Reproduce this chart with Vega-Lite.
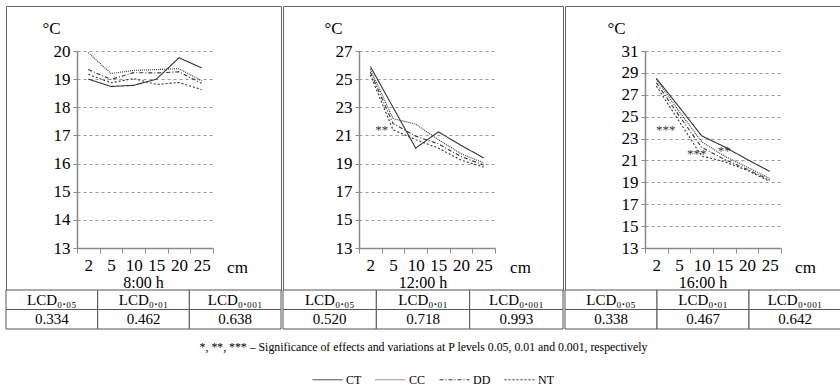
{
  "$schema": "https://vega.github.io/schema/vega-lite/v6.json",
  "padding": {"left": 5, "top": 5, "right": 0, "bottom": 0},
  "background": "white",
  "datasets": {
    "p8": [
      {"depth": "2", "variant": "CT", "temp": 19.0}, {"depth": "5", "variant": "CT", "temp": 18.74}, {"depth": "10", "variant": "CT", "temp": 18.78}, {"depth": "15", "variant": "CT", "temp": 19.0}, {"depth": "20", "variant": "CT", "temp": 19.76}, {"depth": "25", "variant": "CT", "temp": 19.4},
      {"depth": "2", "variant": "CC", "temp": 19.94}, {"depth": "5", "variant": "CC", "temp": 19.2}, {"depth": "10", "variant": "CC", "temp": 19.31}, {"depth": "15", "variant": "CC", "temp": 19.34}, {"depth": "20", "variant": "CC", "temp": 19.37}, {"depth": "25", "variant": "CC", "temp": 18.94},
      {"depth": "2", "variant": "DD", "temp": 19.34}, {"depth": "5", "variant": "DD", "temp": 18.99}, {"depth": "10", "variant": "DD", "temp": 19.23}, {"depth": "15", "variant": "DD", "temp": 19.22}, {"depth": "20", "variant": "DD", "temp": 19.26}, {"depth": "25", "variant": "DD", "temp": 18.85},
      {"depth": "2", "variant": "NT", "temp": 19.17}, {"depth": "5", "variant": "NT", "temp": 18.87}, {"depth": "10", "variant": "NT", "temp": 19.02}, {"depth": "15", "variant": "NT", "temp": 18.81}, {"depth": "20", "variant": "NT", "temp": 18.88}, {"depth": "25", "variant": "NT", "temp": 18.63}
    ],
    "p12": [
      {"depth": "2", "variant": "CT", "temp": 25.9}, {"depth": "5", "variant": "CT", "temp": 23.0}, {"depth": "10", "variant": "CT", "temp": 20.1}, {"depth": "15", "variant": "CT", "temp": 21.25}, {"depth": "20", "variant": "CT", "temp": 20.3}, {"depth": "25", "variant": "CT", "temp": 19.4},
      {"depth": "2", "variant": "CC", "temp": 25.7}, {"depth": "5", "variant": "CC", "temp": 22.2}, {"depth": "10", "variant": "CC", "temp": 21.8}, {"depth": "15", "variant": "CC", "temp": 20.7}, {"depth": "20", "variant": "CC", "temp": 19.7}, {"depth": "25", "variant": "CC", "temp": 19.05},
      {"depth": "2", "variant": "DD", "temp": 25.5}, {"depth": "5", "variant": "DD", "temp": 21.85}, {"depth": "10", "variant": "DD", "temp": 20.95}, {"depth": "15", "variant": "DD", "temp": 20.4}, {"depth": "20", "variant": "DD", "temp": 19.5}, {"depth": "25", "variant": "DD", "temp": 18.9},
      {"depth": "2", "variant": "NT", "temp": 25.3}, {"depth": "5", "variant": "NT", "temp": 21.4}, {"depth": "10", "variant": "NT", "temp": 20.7}, {"depth": "15", "variant": "NT", "temp": 20.1}, {"depth": "20", "variant": "NT", "temp": 19.25}, {"depth": "25", "variant": "NT", "temp": 18.75}
    ],
    "p16": [
      {"depth": "2", "variant": "CT", "temp": 28.5}, {"depth": "5", "variant": "CT", "temp": 25.9}, {"depth": "10", "variant": "CT", "temp": 23.25}, {"depth": "15", "variant": "CT", "temp": 22.25}, {"depth": "20", "variant": "CT", "temp": 21.1}, {"depth": "25", "variant": "CT", "temp": 20.0},
      {"depth": "2", "variant": "CC", "temp": 28.4}, {"depth": "5", "variant": "CC", "temp": 25.5}, {"depth": "10", "variant": "CC", "temp": 22.7}, {"depth": "15", "variant": "CC", "temp": 21.4}, {"depth": "20", "variant": "CC", "temp": 20.4}, {"depth": "25", "variant": "CC", "temp": 19.35},
      {"depth": "2", "variant": "DD", "temp": 28.1}, {"depth": "5", "variant": "DD", "temp": 25.1}, {"depth": "10", "variant": "DD", "temp": 22.2}, {"depth": "15", "variant": "DD", "temp": 21.1}, {"depth": "20", "variant": "DD", "temp": 20.2}, {"depth": "25", "variant": "DD", "temp": 19.2},
      {"depth": "2", "variant": "NT", "temp": 27.8}, {"depth": "5", "variant": "NT", "temp": 24.6}, {"depth": "10", "variant": "NT", "temp": 21.4}, {"depth": "15", "variant": "NT", "temp": 20.9}, {"depth": "20", "variant": "NT", "temp": 20.1}, {"depth": "25", "variant": "NT", "temp": 19.1}
    ]
  },
  "config": {
    "font": "Liberation Serif, Times New Roman, DejaVu Serif, serif",
    "view": {"stroke": null},
    "text": {"font": "Liberation Serif, Times New Roman, DejaVu Serif, serif"},
    "axis": {
      "labelFont": "Liberation Serif, Times New Roman, DejaVu Serif, serif", "titleFont": "Liberation Serif, Times New Roman, DejaVu Serif, serif",
      "labelColor": "#000", "titleColor": "#000", "titleFontWeight": "normal",
      "labelFontSize": 17, "titleFontSize": 17,
      "domainColor": "#8a8a8a", "tickColor": "#8a8a8a", "domainWidth": 1.5,
      "gridColor": "#9a9a9a", "gridDash": [3, 3], "gridWidth": 1
    },
    "title": {"font": "Liberation Serif, Times New Roman, DejaVu Serif, serif", "fontWeight": "normal", "color": "#000"},
    "legend": {
      "orient": "none", "legendX": 306, "legendY": 358, "direction": "horizontal",
      "symbolType": "stroke", "symbolSize": 900, "symbolStrokeWidth": 1, "symbolStrokeColor": "#333",
      "labelFont": "Liberation Serif, Times New Roman, DejaVu Serif, serif", "labelFontSize": 12, "labelColor": "#000",
      "labelOffset": 3, "columnPadding": 11, "padding": 0
    }
  },
  "vconcat": [
    {
      "title": {"text": "*, **, *** – Significance of effects and variations at P levels 0.05, 0.01 and 0.001, respectively", "orient": "bottom", "anchor": "middle", "fontSize": 11.8, "offset": 12},
      "spacing": 0,
      "hconcat": [
        {
          "spacing": 0,
          "bounds": "flush",
          "vconcat": [
            {
              "width": 275, "height": 284,
              "view": {"stroke": "#666", "strokeWidth": 1},
              "title": {"text": "8:00 h", "orient": "bottom", "anchor": "middle", "frame": "group", "offset": -15, "fontSize": 16},
              "encoding": {
                "x": {"field": "depth", "type": "ordinal",
                  "scale": {"domain": ["2", "5", "10", "15", "20", "25"], "range": [71, 207], "paddingInner": 0, "paddingOuter": 0},
                  "axis": {"title": "cm", "titleX": 231, "titleY": 19, "titleAlign": "center", "titleBaseline": "middle", "offset": -42, "tickBand": "extent", "tickSize": 5, "labelPadding": 4, "labelAngle": 0, "labelOverlap": false, "grid": false}},
                "y": {"field": "temp", "type": "quantitative",
                  "scale": {"domain": [13, 20], "range": [242, 45], "nice": false, "zero": false},
                  "axis": {"title": "°C", "titleAngle": 0, "titleX": -26, "titleY": 22, "titleAlign": "center", "titleBaseline": "middle", "offset": -71, "values": [13, 14, 15, 16, 17, 18, 19, 20], "tickSize": 4, "labelPadding": 3, "grid": true}}
              },
              "layer": [
                {
                  "data": {"name": "p8"},
                  "mark": {"type": "line", "color": "#333", "strokeWidth": 1.1},
                  "encoding": {
                    "strokeDash": {"field": "variant", "type": "nominal",
                      "scale": {"domain": ["CT", "CC", "DD", "NT"], "range": [[1, 0], [1, 1], [4, 2, 1, 2], [2, 2]]},
                      "legend": {"title": null}}
                  }
                }
              ]
            },
            {
              "width": 275, "height": 39,
              "data": {"values": [
                {"c": "a", "r": "h", "t": "LCD₀.₀₅"}, {"c": "b", "r": "h", "t": "LCD₀.₀₁"}, {"c": "c", "r": "h", "t": "LCD₀.₀₀₁"},
                {"c": "a", "r": "v", "t": "0.334"}, {"c": "b", "r": "v", "t": "0.462"}, {"c": "c", "r": "v", "t": "0.638"}
              ]},
              "encoding": {
                "x": {"field": "c", "type": "nominal", "scale": {"paddingInner": 0, "paddingOuter": 0}, "axis": null},
                "y": {"field": "r", "type": "nominal", "scale": {"paddingInner": 0, "paddingOuter": 0}, "axis": null}
              },
              "layer": [
                {"mark": {"type": "rect", "fill": "white", "stroke": "#555", "strokeWidth": 1}},
                {"mark": {"type": "text", "fontSize": 15, "color": "#000"}, "encoding": {"text": {"field": "t"}}}
              ]
            }
          ]
        },
        {
          "spacing": 0,
          "bounds": "flush",
          "vconcat": [
            {
              "width": 280, "height": 284,
              "view": {"stroke": "#666", "strokeWidth": 1},
              "title": {"text": "12:00 h", "orient": "bottom", "anchor": "middle", "frame": "group", "offset": -15, "fontSize": 16},
              "encoding": {
                "x": {"field": "depth", "type": "ordinal",
                  "scale": {"domain": ["2", "5", "10", "15", "20", "25"], "range": [76, 212], "paddingInner": 0, "paddingOuter": 0},
                  "axis": {"title": "cm", "titleX": 237, "titleY": 19, "titleAlign": "center", "titleBaseline": "middle", "offset": -42, "tickBand": "extent", "tickSize": 5, "labelPadding": 4, "labelAngle": 0, "labelOverlap": false, "grid": false}},
                "y": {"field": "temp", "type": "quantitative",
                  "scale": {"domain": [13, 27], "range": [242, 45], "nice": false, "zero": false},
                  "axis": {"title": "°C", "titleAngle": 0, "titleX": -26, "titleY": 22, "titleAlign": "center", "titleBaseline": "middle", "offset": -76, "values": [13, 15, 17, 19, 21, 23, 25, 27], "tickSize": 4, "labelPadding": 3, "grid": true}}
              },
              "layer": [
                {
                  "data": {"name": "p12"},
                  "mark": {"type": "line", "color": "#333", "strokeWidth": 1.1},
                  "encoding": {
                    "strokeDash": {"field": "variant", "type": "nominal",
                      "scale": {"domain": ["CT", "CC", "DD", "NT"], "range": [[1, 0], [1, 1], [4, 2, 1, 2], [2, 2]]},
                      "legend": {"title": null}}
                  }
                },
                {
                  "data": {"values": [{"depth": "5", "temp": 21.39, "t": "**"}]},
                  "mark": {"type": "text", "fontSize": 13, "color": "#333", "baseline": "middle"},
                  "encoding": {
                    "x": {"field": "depth", "type": "ordinal", "bandPosition": 0},
                    "text": {"field": "t"}
                  }
                }
              ]
            },
            {
              "width": 280, "height": 39,
              "data": {"values": [
                {"c": "a", "r": "h", "t": "LCD₀.₀₅"}, {"c": "b", "r": "h", "t": "LCD₀.₀₁"}, {"c": "c", "r": "h", "t": "LCD₀.₀₀₁"},
                {"c": "a", "r": "v", "t": "0.520"}, {"c": "b", "r": "v", "t": "0.718"}, {"c": "c", "r": "v", "t": "0.993"}
              ]},
              "encoding": {
                "x": {"field": "c", "type": "nominal", "scale": {"paddingInner": 0, "paddingOuter": 0}, "axis": null},
                "y": {"field": "r", "type": "nominal", "scale": {"paddingInner": 0, "paddingOuter": 0}, "axis": null}
              },
              "layer": [
                {"mark": {"type": "rect", "fill": "white", "stroke": "#555", "strokeWidth": 1}},
                {"mark": {"type": "text", "fontSize": 15, "color": "#000"}, "encoding": {"text": {"field": "t"}}}
              ]
            }
          ]
        },
        {
          "spacing": 0,
          "bounds": "flush",
          "vconcat": [
            {
              "width": 276, "height": 284,
              "view": {"stroke": "#666", "strokeWidth": 1},
              "title": {"text": "16:00 h", "orient": "bottom", "anchor": "middle", "frame": "group", "offset": -15, "fontSize": 16},
              "encoding": {
                "x": {"field": "depth", "type": "ordinal",
                  "scale": {"domain": ["2", "5", "10", "15", "20", "25"], "range": [80, 216], "paddingInner": 0, "paddingOuter": 0},
                  "axis": {"title": "cm", "titleX": 240, "titleY": 19, "titleAlign": "center", "titleBaseline": "middle", "offset": -42, "tickBand": "extent", "tickSize": 5, "labelPadding": 4, "labelAngle": 0, "labelOverlap": false, "grid": false}},
                "y": {"field": "temp", "type": "quantitative",
                  "scale": {"domain": [13, 31], "range": [242, 45], "nice": false, "zero": false},
                  "axis": {"title": "°C", "titleAngle": 0, "titleX": -29, "titleY": 22, "titleAlign": "center", "titleBaseline": "middle", "offset": -80, "values": [13, 15, 17, 19, 21, 23, 25, 27, 29, 31], "tickSize": 4, "labelPadding": 3, "grid": true}}
              },
              "layer": [
                {
                  "data": {"name": "p16"},
                  "mark": {"type": "line", "color": "#333", "strokeWidth": 1.1},
                  "encoding": {
                    "strokeDash": {"field": "variant", "type": "nominal",
                      "scale": {"domain": ["CT", "CC", "DD", "NT"], "range": [[1, 0], [1, 1], [4, 2, 1, 2], [2, 2]]},
                      "legend": {"title": null}}
                  }
                },
                {
                  "data": {"values": [{"depth": "2", "temp": 23.78, "t": "***"}]},
                  "mark": {"type": "text", "fontSize": 13, "color": "#333", "baseline": "middle"},
                  "encoding": {
                    "x": {"field": "depth", "type": "ordinal", "bandPosition": 0.91},
                    "text": {"field": "t"}
                  }
                },
                {
                  "data": {"values": [{"depth": "10", "temp": 21.58, "t": "***"}]},
                  "mark": {"type": "text", "fontSize": 13, "color": "#333", "baseline": "middle"},
                  "encoding": {
                    "x": {"field": "depth", "type": "ordinal", "bandPosition": 0.28},
                    "text": {"field": "t"}
                  }
                },
                {
                  "data": {"values": [{"depth": "15", "temp": 21.86, "t": "**"}]},
                  "mark": {"type": "text", "fontSize": 13, "color": "#333", "baseline": "middle"},
                  "encoding": {
                    "x": {"field": "depth", "type": "ordinal", "bandPosition": 0.5},
                    "text": {"field": "t"}
                  }
                }
              ]
            },
            {
              "width": 276, "height": 39,
              "data": {"values": [
                {"c": "a", "r": "h", "t": "LCD₀.₀₅"}, {"c": "b", "r": "h", "t": "LCD₀.₀₁"}, {"c": "c", "r": "h", "t": "LCD₀.₀₀₁"},
                {"c": "a", "r": "v", "t": "0.338"}, {"c": "b", "r": "v", "t": "0.467"}, {"c": "c", "r": "v", "t": "0.642"}
              ]},
              "encoding": {
                "x": {"field": "c", "type": "nominal", "scale": {"paddingInner": 0, "paddingOuter": 0}, "axis": null},
                "y": {"field": "r", "type": "nominal", "scale": {"paddingInner": 0, "paddingOuter": 0}, "axis": null}
              },
              "layer": [
                {"mark": {"type": "rect", "fill": "white", "stroke": "#555", "strokeWidth": 1}},
                {"mark": {"type": "text", "fontSize": 15, "color": "#000"}, "encoding": {"text": {"field": "t"}}}
              ]
            }
          ]
        }
      ]
    }
  ]
}
